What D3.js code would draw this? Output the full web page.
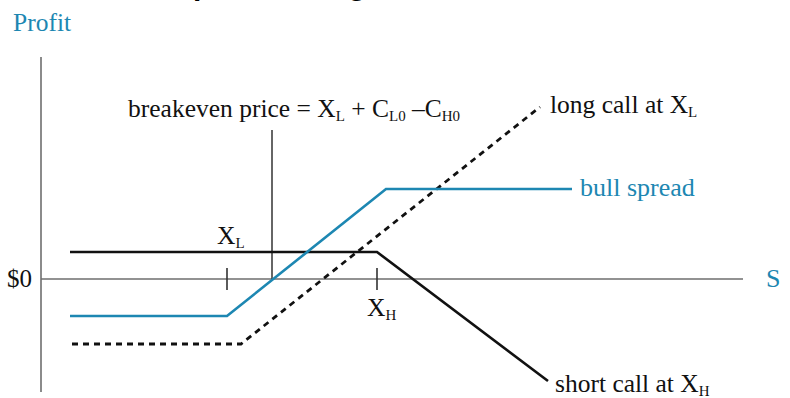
<!DOCTYPE html>
<html><head><meta charset="utf-8">
<script src="https://cdn.jsdelivr.net/npm/d3@7"></script>
<style>html,body{margin:0;padding:0;background:#fff;}svg{display:block;}</style>
</head><body>
<svg id="c" width="790" height="398"></svg>
<script>
// ---- data (arbitrary price / profit units) ----
const priceDomain = [0, 70.2];
const profitDomain = [-11.3, 22.2];
const strikes = [18.6, 33.6];            // X_L, X_H tick positions
const strikeNames = ["L", "H"];
const breakevenPrice = 23.1;
const breakevenTop = 14.9;
const longCallS = [3.1, 20.0, 49.9];
const longCallP = [-6.5, -6.5, 17.2];
const shortCallS = [2.9, 33.6, 50.7];
const shortCallP = [2.7, 2.7, -10.2];
const bullS = [2.9, 18.6, 34.5, 53.1];
const bullP = [-3.7, -3.7, 9.0, 9.0];

const BLUE = "#1d87b2";
const svg = d3.select("#c");
const x = d3.scaleLinear().domain(priceDomain).range([41, 743]);
const y = d3.scaleLinear().domain(profitDomain).range([392, 57]);
const serif = "'Liberation Serif', 'Times New Roman', serif";

// cropped title (only descenders visible in the reference)
svg.append("text").attr("x", 108).attr("y", -5)
  .attr("font-family", "'Liberation Sans', Arial, sans-serif").attr("font-weight", "bold")
  .attr("font-size", 30).attr("fill", "#000").text("Bull Spread Using Calls");

// axes
svg.append("line").attr("x1", x(0)).attr("x2", x(0)).attr("y1", y(profitDomain[1])).attr("y2", y(profitDomain[0]))
  .attr("stroke", "#6e6e6e").attr("stroke-width", 1.6);
svg.append("line").attr("x1", x(0)).attr("x2", x(priceDomain[1])).attr("y1", y(0)).attr("y2", y(0))
  .attr("stroke", "#6e6e6e").attr("stroke-width", 1.6);

// strike ticks
svg.selectAll(".tick").data(strikes).enter().append("line")
  .attr("x1", d => x(d)).attr("x2", d => x(d)).attr("y1", y(0) - 11).attr("y2", y(0) + 11)
  .attr("stroke", "#333").attr("stroke-width", 1.6);

// breakeven line
svg.append("line").attr("x1", x(breakevenPrice)).attr("x2", x(breakevenPrice))
  .attr("y1", y(breakevenTop)).attr("y2", y(0)).attr("stroke", "#333").attr("stroke-width", 1.5);

const line = d3.line().x(d => x(d[0])).y(d => y(d[1]));
const zip = (a, b) => a.map((v, i) => [v, b[i]]);

svg.append("path").attr("d", line(zip(shortCallS, shortCallP)))
  .attr("fill", "none").attr("stroke", "#111").attr("stroke-width", 2.6);
svg.append("path").attr("d", line(zip(longCallS, longCallP)))
  .attr("fill", "none").attr("stroke", "#111").attr("stroke-width", 2.8).attr("stroke-dasharray", "6,5");
svg.append("path").attr("d", line(zip(bullS, bullP)))
  .attr("fill", "none").attr("stroke", BLUE).attr("stroke-width", 2.6);

// labels
function label(px, py, parts, color, size) {
  const t = svg.append("text").attr("x", px).attr("y", py).attr("font-family", serif)
    .attr("font-size", size || 25.5).attr("fill", color || "#111");
  let shifted = false;
  parts.forEach(p => {
    const s = t.append("tspan").text(p.t);
    if (p.sub && !shifted) { s.attr("dy", 4).attr("font-size", 15); shifted = true; }
    else if (p.sub) { s.attr("font-size", 15); }
    else if (!p.sub && shifted) { s.attr("dy", -4); shifted = false; }
  });
  return t;
}
label(13, 31, [{t: "Profit"}], BLUE, 25.5);
label(7, 287, [{t: "$0"}], "#111", 25);
label(766, 287, [{t: "S"}], BLUE, 26);
label(128, 117, [{t: "breakeven price = X"}, {t: "L", sub: true}, {t: " + C"}, {t: "L0", sub: true}, {t: " \u2013C"}, {t: "H0", sub: true}]);
label(550, 113, [{t: "long call at X"}, {t: "L", sub: true}]);
label(580, 196, [{t: "bull spread"}], BLUE, 26);
label(555, 392, [{t: "short call at X"}, {t: "H", sub: true}]);
label(x(strikes[0]) - 10, 244, [{t: "X"}, {t: strikeNames[0], sub: true}]);
label(x(strikes[1]) - 10, 316, [{t: "X"}, {t: strikeNames[1], sub: true}]);
</script>
</body></html>
